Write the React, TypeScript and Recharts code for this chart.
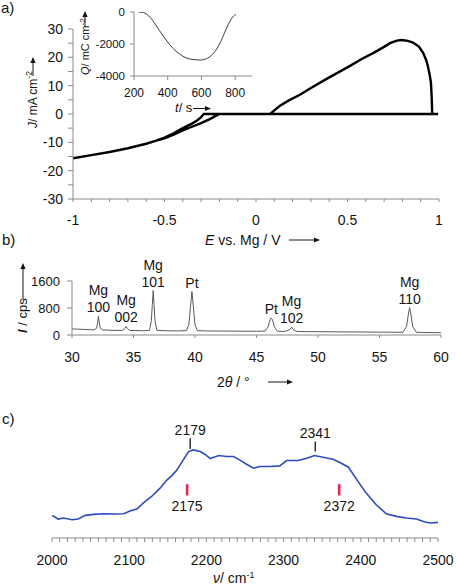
import { LineChart, Line, XAxis, YAxis, ReferenceLine, ReferenceDot } from "recharts";

const FONT = "'Liberation Sans', Arial, sans-serif";
const INK = "#141414";
const AXIS = "#8a8a8a";

// panel a: cyclic voltammogram (E in V vs Mg, J in mA cm-2), drawn in sweep order
const cvPotential = [
  -1, -0.9, -0.8, -0.7, -0.6, -0.55, -0.5, -0.45, -0.4, -0.35, -0.3, -0.25, -0.2,
  0.077, 0.1, 0.131, 0.18, 0.24, 0.3, 0.386, 0.45, 0.514, 0.58, 0.64, 0.7, 0.732, 0.77,
  0.796, 0.83, 0.858, 0.89, 0.914, 0.93, 0.94, 0.95, 0.956, 0.96, 0.963, 0.995,
  -0.285, -0.3, -0.32, -0.35, -0.4, -0.45, -0.5, -0.55, -0.6, -0.7, -0.8, -0.9, -1,
];
const cvCurrent = [
  -15.6, -14.5, -13.4, -12.1, -10.5, -9.5, -8.6, -7.3, -5.8, -4.5, -3.2, -1.7, 0,
  0, 1.3, 2.9, 4.8, 6.8, 9.2, 12.4, 14.7, 17, 19.5, 21.5, 23.7, 25, 25.9,
  26.1, 25.8, 25.2, 23.8, 21.5, 19, 16.7, 13.5, 11, 6, 0, 0,
  0, -1.1, -2.2, -3.4, -5.0, -6.8, -8.3, -9.5, -10.5, -12.1, -13.4, -14.5, -15.6,
];
const cvTicksX = [-1, -0.9, -0.8, -0.7, -0.6, -0.5, -0.4, -0.3, -0.2, -0.1, 0, 0.1, 0.2, 0.3, 0.4, 0.5, 0.6, 0.7, 0.8, 0.9, 1];
const cvLabelsX = [-1, -0.5, 0, 0.5, 1];
const cvTicksY = [-30, -25, -20, -15, -10, -5, 0, 5, 10, 15, 20, 25, 30];
const cvLabelsY = [-30, -20, -10, 0, 10, 20, 30];

// inset: charge vs time
const chargeTime = [225, 250, 280, 310, 350, 390, 430, 470, 510, 555, 595, 635, 675, 715, 745, 775, 795, 805];
const chargeQ = [0, -20, -170, -520, -1150, -1740, -2260, -2620, -2870, -2975, -3000, -2890, -2540, -1850, -1110, -480, -210, -150];
const insetTicksX = [200, 400, 600, 800];
const insetTicksY = [-4000, -2000, 0];

// panel b: XRD pattern
const xrdAngle = [
  30, 30.5, 31, 31.5, 31.8, 32, 32.08, 32.15, 32.22, 32.3, 32.5, 33, 33.5, 34.1, 34.3, 34.4, 34.5, 34.7,
  35.2, 35.8, 36.3, 36.45, 36.53, 36.6, 36.67, 36.75, 36.9, 37.5, 38.5, 39.3, 39.5, 39.65, 39.75, 39.85,
  40, 40.2, 41, 42, 43, 44, 45, 45.7, 45.95, 46.1, 46.2, 46.3, 46.45, 46.7, 47.3, 47.7, 47.85, 48, 48.3,
  49, 50, 51, 52, 53, 54, 55, 56, 56.9, 57.2, 57.35, 57.45, 57.55, 57.7, 58, 58.5, 59, 59.5, 60,
];
const xrdIntensity = [
  182, 172, 166, 156, 152, 200, 360, 556, 360, 200, 150, 142, 136, 135, 190, 253, 190, 134,
  131, 127, 135, 420, 900, 1317, 900, 420, 140, 126, 121, 130, 300, 900, 1287, 900,
  300, 130, 119, 117, 116, 112, 111, 116, 250, 450, 507, 450, 250, 112, 106, 160, 233, 160, 104,
  101, 98, 96, 92, 91, 88, 85, 83, 82, 250, 620, 811, 620, 250, 80, 75, 73, 70, 68,
];
const peakAngle = [32.15, 34.4, 36.6, 39.75, 46.2, 47.85, 57.45];
const peakHeight = [556, 253, 1317, 1287, 507, 233, 811];
const peakNames = [["Mg", "100"], ["Mg", "002"], ["Mg", "101"], ["Pt"], ["Pt"], ["Mg", "102"], ["Mg", "110"]];
const xrdTicksX = [30, 35, 40, 45, 50, 55, 60];
const xrdTicksY = [0, 800, 1600];

// panel c: IR spectrum (arbitrary absorbance)
const irWavenumber = [
  2000, 2008, 2015, 2026, 2034, 2043, 2054, 2067, 2080, 2093, 2101, 2110, 2118, 2129, 2140, 2149, 2155,
  2162, 2170, 2177, 2183, 2192, 2198, 2205, 2216, 2226, 2235, 2243, 2252, 2261, 2269, 2282, 2295, 2304,
  2319, 2330, 2340, 2351, 2364, 2373, 2384, 2395, 2407, 2420, 2433, 2446, 2459, 2472, 2483, 2491, 2500,
];
const irAbsorbance = [
  68, 57, 60, 55, 57, 68, 71, 73, 72, 73, 81, 87, 105, 125, 150, 175, 187,
  205, 235, 260, 265, 260, 252, 239, 248, 245, 245, 235, 222, 210, 215, 215, 217, 233,
  233, 240, 248, 243, 237, 227, 213, 175, 135, 100, 73, 65, 60, 57, 48, 45, 47,
];
const irTicks = [
  2000, 2010, 2020, 2030, 2040, 2050, 2060, 2070, 2080, 2090, 2100, 2110, 2120, 2130, 2140, 2150, 2160,
  2170, 2180, 2190, 2200, 2210, 2220, 2230, 2240, 2250, 2260, 2270, 2280, 2290, 2300, 2310, 2320, 2330,
  2340, 2350, 2360, 2370, 2380, 2390, 2400, 2410, 2420, 2430, 2440, 2450, 2460, 2470, 2480, 2490, 2500,
];
const irLabels = [2000, 2100, 2200, 2300, 2400, 2500];
const irMeasured = [2179, 2341];
const irReference = [2175, 2372];

const cvData = cvPotential.map((E, i) => ({ E, J: cvCurrent[i] }));
const chargeData = chargeTime.map((t, i) => ({ t, Q: chargeQ[i] }));
const xrdData = xrdAngle.map((a, i) => ({ a, I: xrdIntensity[i] }));
const irData = irWavenumber.map((w, i) => ({ w, A: irAbsorbance[i] }));

const has = (arr: number[], v: number) => arr.some((a) => Math.abs(a - v) < 1e-6);

const xTick = (labels: number[], len: number, gap: number, size: number) => (props: any) => {
  const { x, y, payload } = props;
  const v = payload.value;
  return (
    <g>
      <line x1={x} y1={y} x2={x} y2={y + len} stroke={AXIS} />
      {has(labels, v) && (
        <text x={x} y={y + gap} textAnchor="middle" fontSize={size} fill={INK} fontFamily={FONT}>
          {String(v)}
        </text>
      )}
    </g>
  );
};

const yTick = (labels: number[], len: number, gap: number, size: number) => (props: any) => {
  const { x, y, payload } = props;
  const v = payload.value;
  return (
    <g>
      <line x1={x} y1={y} x2={x - len} y2={y} stroke={AXIS} />
      {has(labels, v) && (
        <text x={x - gap} y={y + size * 0.36} textAnchor="end" fontSize={size} fill={INK} fontFamily={FONT}>
          {String(v)}
        </text>
      )}
    </g>
  );
};

const peakLabel = (lines: string[]) => (props: any) => {
  const vb = props.viewBox || {};
  const cx = (vb.x || 0) + (vb.width || 0) / 2;
  const base = (vb.y || 0) - 4;
  return (
    <text textAnchor="middle" fontSize={14} fill={INK} fontFamily={FONT}>
      {lines.map((l, i) => (
        <tspan key={i} x={cx} y={base - (lines.length - 1 - i) * 17}>
          {l}
        </tspan>
      ))}
    </text>
  );
};

function Arrow({ x1, y1, x2, y2 }: { x1: number; y1: number; x2: number; y2: number }) {
  const ang = Math.atan2(y2 - y1, x2 - x1);
  const L = 6;
  const W = 2.6;
  const bx = x2 - L * Math.cos(ang);
  const by = y2 - L * Math.sin(ang);
  const px = -Math.sin(ang) * W;
  const py = Math.cos(ang) * W;
  return (
    <g>
      <line x1={x1} y1={y1} x2={bx} y2={by} stroke={INK} strokeWidth={1} />
      <polygon points={`${x2},${y2} ${bx + px},${by + py} ${bx - px},${by - py}`} fill={INK} />
    </g>
  );
}

const abs = (left: number, top: number) => ({ position: "absolute" as const, left, top });

export default function App() {
  return (
    <div style={{ position: "absolute", left: 0, top: 0, width: 456, height: 588, background: "#fff", fontFamily: FONT }}>
      {/* a) cyclic voltammogram */}
      <div style={abs(0, 0)}>
        <LineChart width={456} height={260} data={cvData} margin={{ top: 29, right: 17, bottom: 0, left: 0 }}>
          <XAxis dataKey="E" type="number" domain={[-1, 1]} ticks={cvTicksX} interval={0} tickSize={0} tickMargin={0}
            tickLine={false} axisLine={{ stroke: AXIS }} tick={xTick(cvLabelsX, 3, 26, 14)} height={61} allowDataOverflow />
          <YAxis type="number" domain={[-30, 30]} ticks={cvTicksY} interval={0} tickSize={0} tickMargin={0}
            tickLine={false} axisLine={{ stroke: AXIS }} tick={yTick(cvLabelsY, 5, 10, 14)} width={73} allowDataOverflow />
          <Line dataKey="J" type="linear" stroke="#000" strokeWidth={2.4} dot={false} isAnimationActive={false} />
        </LineChart>
      </div>

      {/* inset: charge transient */}
      <div style={abs(60, 0)}>
        <LineChart width={200} height={115} data={chargeData} margin={{ top: 12, right: 8, bottom: 0, left: 0 }}>
          <XAxis dataKey="t" type="number" domain={[200, 900]} ticks={insetTicksX} interval={0} tickSize={0} tickMargin={0}
            tickLine={false} axisLine={{ stroke: AXIS }} tick={xTick(insetTicksX, 4, 21, 12)} height={39} allowDataOverflow />
          <YAxis type="number" domain={[-4000, 0]} ticks={insetTicksY} interval={0} tickSize={0} tickMargin={0}
            tickLine={false} axisLine={{ stroke: AXIS }} tick={yTick(insetTicksY, 4, 9, 11.5)} width={74} allowDataOverflow />
          <Line dataKey="Q" type="monotone" stroke="#3a3a3a" strokeWidth={1} dot={false} isAnimationActive={false} />
        </LineChart>
      </div>

      {/* b) XRD */}
      <div style={abs(0, 240)}>
        <LineChart width={456} height={140} data={xrdData} margin={{ top: 41, right: 15, bottom: 0, left: 0 }}>
          <XAxis dataKey="a" type="number" domain={[30, 60]} ticks={xrdTicksX} interval={0} tickSize={0} tickMargin={0}
            tickLine={false} axisLine={{ stroke: AXIS }} tick={xTick(xrdTicksX, 3, 27, 14)} height={45} allowDataOverflow />
          <YAxis type="number" domain={[0, 1600]} ticks={xrdTicksY} interval={0} tickSize={0} tickMargin={0}
            tickLine={false} axisLine={{ stroke: AXIS }} tick={yTick(xrdTicksY, 5, 12, 13)} width={72} allowDataOverflow />
          <Line dataKey="I" type="linear" stroke="#5a5a5a" strokeWidth={1} dot={false} isAnimationActive={false} />
          {peakAngle.map((p, i) => (
            <ReferenceDot key={i} x={p} y={peakHeight[i]} r={0} fill="none" stroke="none" label={peakLabel(peakNames[i])} />
          ))}
        </LineChart>
      </div>

      {/* c) IR */}
      <div style={abs(0, 400)}>
        <LineChart width={456} height={188} data={irData} margin={{ top: 25, right: 18, bottom: 0, left: 52 }}>
          <XAxis dataKey="w" type="number" domain={[2000, 2500]} ticks={irTicks} interval={0} tickSize={0} tickMargin={0}
            tickLine={false} axisLine={{ stroke: AXIS }} tick={xTick(irLabels, 4, 27, 14)} height={50} allowDataOverflow />
          <YAxis hide type="number" domain={[0, 340]} />
          <Line dataKey="A" type="linear" stroke="#2a4cc0" strokeWidth={1.6} dot={false} isAnimationActive={false} />
          <ReferenceLine segment={[{ x: irMeasured[0], y: 268 }, { x: irMeasured[0], y: 300 }]} stroke="#111" strokeWidth={1.3}
            label={{ value: String(irMeasured[0]), position: "top", offset: 3, fontSize: 14, fill: INK }} />
          <ReferenceLine segment={[{ x: irMeasured[1], y: 260 }, { x: irMeasured[1], y: 290 }]} stroke="#111" strokeWidth={1.3}
            label={{ value: String(irMeasured[1]), position: "top", offset: 4, fontSize: 14, fill: INK }} />
          {irReference.map((r) => (
            <ReferenceLine key={r} segment={[{ x: r, y: 128 }, { x: r, y: 162 }]} stroke="#e3264f" strokeWidth={2.6}
              label={{ value: String(r), position: "bottom", offset: 6, fontSize: 14, fill: INK }} />
          ))}
        </LineChart>
      </div>

      {/* panel letters and axis titles */}
      <svg width={456} height={588} style={{ position: "absolute", left: 0, top: 0, pointerEvents: "none" }} fontFamily={FONT} fill={INK}>
        <text x={1} y={13} fontSize={15}>a)</text>
        <text x={2} y={245} fontSize={15}>b)</text>
        <text x={2} y={424} fontSize={15}>c)</text>

        <text x={37} y={128} fontSize={12} transform="rotate(-90 37 128)">
          <tspan fontStyle="italic">J</tspan>/ mA cm<tspan dy={-5} fontSize={8.5}>-2</tspan>
        </text>
        <Arrow x1={33} y1={76} x2={33} y2={57} />

        <text x={89} y={75} fontSize={11} transform="rotate(-90 89 75)">
          <tspan fontStyle="italic">Q</tspan>/ mC cm<tspan dy={-4} fontSize={8}>-2</tspan>
        </text>
        <Arrow x1={85} y1={27} x2={85} y2={11} />

        <text x={175} y={112} fontSize={13}>
          <tspan fontStyle="italic">t</tspan>/ s
        </text>
        <Arrow x1={193} y1={108.5} x2={211} y2={108.5} />

        <text x={205} y={245} fontSize={14}>
          <tspan fontStyle="italic">E</tspan> vs. Mg / V
        </text>
        <Arrow x1={289} y1={240} x2={320} y2={240} />

        <text x={27} y={333} fontSize={13} transform="rotate(-90 27 333)">
          <tspan fontStyle="italic" fontWeight="bold">I</tspan> / cps
        </text>
        <Arrow x1={23} y1={300} x2={23} y2={263} />

        <text x={217} y={387} fontSize={14}>
          2<tspan fontStyle="italic">θ</tspan> / °
        </text>
        <Arrow x1={268} y1={382} x2={293} y2={382} />

        <text x={213} y={583} fontSize={14}>
          <tspan fontStyle="italic">ν</tspan>/ cm<tspan dy={-5} fontSize={9}>-1</tspan>
        </text>
      </svg>
    </div>
  );
}
